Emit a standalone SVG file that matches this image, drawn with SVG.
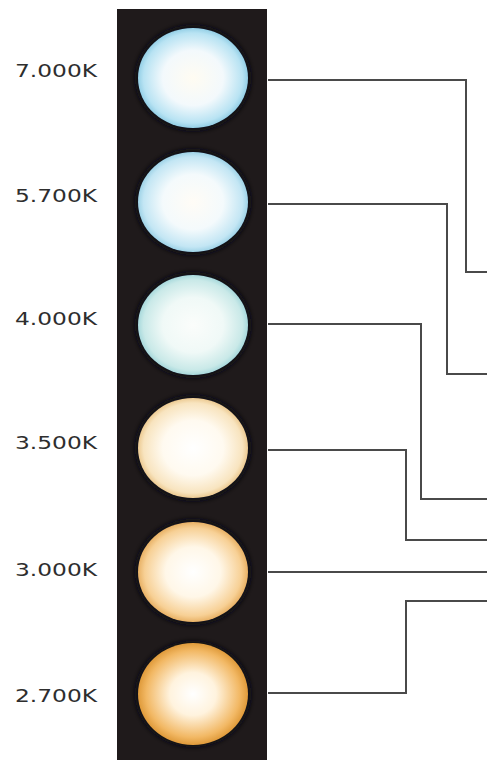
<svg xmlns="http://www.w3.org/2000/svg" width="487" height="760" viewBox="0 0 487 760">
  <style>
    .label { font-family: "DejaVu Sans", Verdana, sans-serif; font-size: 18px; fill: #2e2e2e; }
    .wire { fill: none; stroke: #4a4a4a; stroke-width: 2; }
  </style>
  <defs>
    <radialGradient id="g7000" cx="0.5" cy="0.5" r="0.5">
      <stop offset="0" stop-color="#fffcf2"/>
      <stop offset="0.55" stop-color="#f3f9fc"/>
      <stop offset="0.9" stop-color="#b8e3f3"/>
      <stop offset="1" stop-color="#94cfe6"/>
    </radialGradient>
    <radialGradient id="g5700" cx="0.5" cy="0.5" r="0.5">
      <stop offset="0" stop-color="#fffcf6"/>
      <stop offset="0.55" stop-color="#f4fafc"/>
      <stop offset="0.9" stop-color="#c3e6f4"/>
      <stop offset="1" stop-color="#9fd3e7"/>
    </radialGradient>
    <radialGradient id="g4000" cx="0.5" cy="0.5" r="0.5">
      <stop offset="0" stop-color="#fbfdfb"/>
      <stop offset="0.55" stop-color="#f0f9f7"/>
      <stop offset="0.9" stop-color="#c9e9e8"/>
      <stop offset="1" stop-color="#a8d9dc"/>
    </radialGradient>
    <radialGradient id="g3500" cx="0.5" cy="0.5" r="0.5">
      <stop offset="0" stop-color="#ffffff"/>
      <stop offset="0.55" stop-color="#fffaf0"/>
      <stop offset="0.9" stop-color="#f8e4bf"/>
      <stop offset="1" stop-color="#ecca92"/>
    </radialGradient>
    <radialGradient id="g3000" cx="0.5" cy="0.5" r="0.5">
      <stop offset="0" stop-color="#ffffff"/>
      <stop offset="0.5" stop-color="#fff7e8"/>
      <stop offset="0.88" stop-color="#f7d095"/>
      <stop offset="1" stop-color="#e8b165"/>
    </radialGradient>
    <radialGradient id="g2700" cx="0.5" cy="0.5" r="0.5">
      <stop offset="0" stop-color="#ffffff"/>
      <stop offset="0.42" stop-color="#fff3de"/>
      <stop offset="0.85" stop-color="#f2b864"/>
      <stop offset="1" stop-color="#df9a3a"/>
    </radialGradient>
    <filter id="rim" x="-20%" y="-20%" width="140%" height="140%">
      <feGaussianBlur stdDeviation="2.5"/>
    </filter>
  </defs>

  <!-- dark backing strip -->
  <rect x="117" y="9" width="150" height="760" fill="#1f1a1b"/>

  <!-- connectors -->
  <g id="connectors">
    <polyline class="wire" points="268,80 466,80 466,272 487,272"/>
    <polyline class="wire" points="268,204 447,204 447,374 487,374"/>
    <polyline class="wire" points="268,324 421,324 421,499 487,499"/>
    <polyline class="wire" points="268,450 406,450 406,540 487,540"/>
    <polyline class="wire" points="268,572 487,572"/>
    <polyline class="wire" points="268,693 406,693 406,601 487,601"/>
  </g>

  <g id="k7000">
    <ellipse cx="193" cy="78" rx="58" ry="53" fill="#0c0c12" filter="url(#rim)"/>
    <ellipse cx="193" cy="78" rx="55" ry="50" fill="url(#g7000)"/>
    <text class="label" x="15" y="77" textLength="82" lengthAdjust="spacingAndGlyphs">7.000K</text>
  </g>
  <g id="k5700">
    <ellipse cx="193" cy="202" rx="58" ry="53" fill="#0c0c12" filter="url(#rim)"/>
    <ellipse cx="193" cy="202" rx="55" ry="50" fill="url(#g5700)"/>
    <text class="label" x="15" y="202" textLength="82" lengthAdjust="spacingAndGlyphs">5.700K</text>
  </g>
  <g id="k4000">
    <ellipse cx="193" cy="325" rx="58" ry="53" fill="#0c0c12" filter="url(#rim)"/>
    <ellipse cx="193" cy="325" rx="55" ry="50" fill="url(#g4000)"/>
    <text class="label" x="15" y="325" textLength="82" lengthAdjust="spacingAndGlyphs">4.000K</text>
  </g>
  <g id="k3500">
    <ellipse cx="193" cy="448" rx="58" ry="53" fill="#0c0c12" filter="url(#rim)"/>
    <ellipse cx="193" cy="448" rx="55" ry="50" fill="url(#g3500)"/>
    <text class="label" x="15" y="449" textLength="82" lengthAdjust="spacingAndGlyphs">3.500K</text>
  </g>
  <g id="k3000">
    <ellipse cx="193" cy="572" rx="58" ry="53" fill="#0c0c12" filter="url(#rim)"/>
    <ellipse cx="193" cy="572" rx="55" ry="50" fill="url(#g3000)"/>
    <text class="label" x="15" y="576" textLength="82" lengthAdjust="spacingAndGlyphs">3.000K</text>
  </g>
  <g id="k2700">
    <ellipse cx="193" cy="694" rx="58" ry="53" fill="#0c0c12" filter="url(#rim)"/>
    <ellipse cx="193" cy="694" rx="55" ry="51" fill="url(#g2700)"/>
    <text class="label" x="15" y="702" textLength="82" lengthAdjust="spacingAndGlyphs">2.700K</text>
  </g>
</svg>
